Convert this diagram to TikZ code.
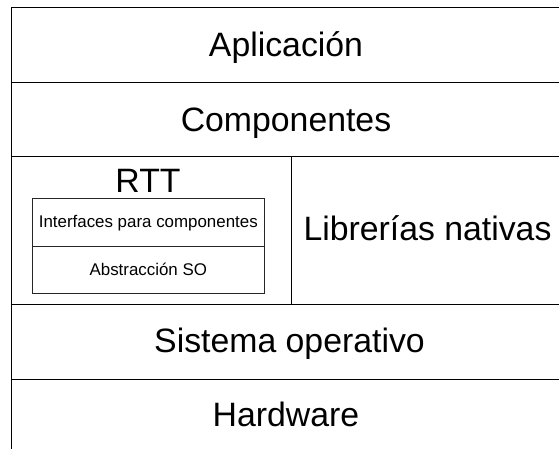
\documentclass[tikz,border=0pt]{standalone}
\usepackage{fontspec}
\setmainfont{Liberation Sans}
\begin{document}
\begin{tikzpicture}[x=1pt,y=-1pt,
  box/.style={draw, line width=1pt, inner sep=0pt, outer sep=0pt},
  ibox/.style={draw=black!85, line width=1pt, inner sep=0pt, outer sep=0pt},
  big/.style={font=\fontsize{33.8}{38}\selectfont, anchor=base, inner sep=0pt},
  small/.style={font=\fontsize{16.9}{20}\selectfont, anchor=base, inner sep=0pt}]
\useasboundingbox (0,0) rectangle (559,448);
% layers
\node[box, minimum width=550pt, minimum height=75pt] (app) at (286,44.5) {};
\node[box, minimum width=550pt, minimum height=74pt] (comp) at (286,119) {};
\node[box, minimum width=280pt, minimum height=148pt] (rtt) at (151,230) {};
\node[box, minimum width=270pt, minimum height=148pt] (lib) at (426,230) {};
\node[box, minimum width=550pt, minimum height=75pt] (so) at (286,341.5) {};
\node[box, minimum width=550pt, minimum height=75pt] (hw) at (286,416.5) {};
% inner RTT boxes
\node[ibox, minimum width=232pt, minimum height=48pt] (iface) at (148.3,222.7) {};
\node[ibox, minimum width=232pt, minimum height=46.6pt] (abs) at (148.3,270) {};
% labels
\node[big] (tapp) at (286,56) {Aplicación};
\node[big] (tcomp) at (286,131) {Componentes};
\node[big] (trtt) at (148,192.7) {RTT};
\node[big] (tlib) at (427.5,240) {Librerías nativas};
\node[big] (tso) at (289.5,352.7) {Sistema operativo};
\node[big] (thw) at (286,426.7) {Hardware};
\node[small] (tiface) at (148.3,227.3) {Interfaces para componentes};
\node[small] (tabs) at (148.3,275) {Abstracción SO};
\end{tikzpicture}
\end{document}
